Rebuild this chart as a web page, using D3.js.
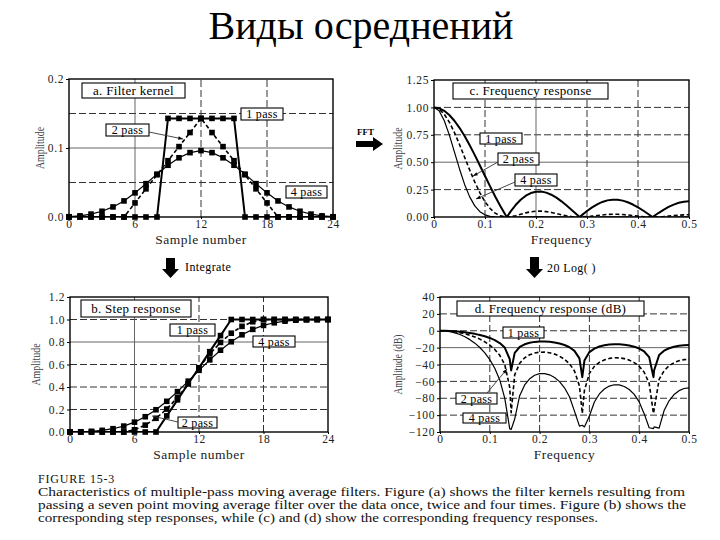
<!DOCTYPE html>
<html><head><meta charset="utf-8">
<script src="https://cdn.jsdelivr.net/npm/d3@7"></script>
<style>body{margin:0;background:#fff} svg{display:block}</style>
</head><body><svg id="c" width="720" height="540"></svg>
<script>
// ---------------- DATA ----------------
const titleText = "Виды осреднений";
const samples = [0,1,2,3,4,5,6,7,8,9,10,11,12,13,14,15,16,17,18,19,20,21,22,23,24];
const kernel1 = [0,0,0,0,0,0,0,0,0,0.1429,0.1429,0.1429,0.1429,0.1429,0.1429,0.1429,0,0,0,0,0,0,0,0,0];
const kernel2 = [0,0,0,0,0,0,0.0204,0.0408,0.0612,0.0816,0.1020,0.1224,0.1429,0.1224,0.1020,0.0816,0.0612,0.0408,0.0204,0,0,0,0,0,0];
const kernel4 = [0.0004,0.0017,0.0042,0.0083,0.0146,0.0233,0.0350,0.0483,0.0621,0.0750,0.0858,0.0933,0.0962,0.0933,0.0858,0.0750,0.0621,0.0483,0.0350,0.0233,0.0146,0.0083,0.0042,0.0017,0.0004];
const step1 = [0,0,0,0,0,0,0,0,0,0.143,0.286,0.429,0.571,0.714,0.857,1,1,1,1,1,1,1,1,1,1];
const step2 = [0,0,0,0,0,0,0.020,0.061,0.122,0.204,0.306,0.429,0.571,0.694,0.796,0.878,0.939,0.980,1,1,1,1,1,1,1];
const step4 = [0.0004,0.0021,0.0062,0.0146,0.0292,0.0525,0.0875,0.1358,0.1978,0.2728,0.3586,0.4519,0.5481,0.6414,0.7272,0.8022,0.8642,0.9125,0.9475,0.9708,0.9854,0.9938,0.9979,0.9996,1];

const freq = [0,0.01,0.02,0.03,0.04,0.05,0.06,0.07,0.08,0.09,0.10,0.11,0.12,0.13,0.14,0.1429,
  0.15,0.16,0.17,0.18,0.19,0.20,0.21,0.22,0.23,0.24,0.25,0.26,0.27,0.28,0.2857,
  0.29,0.30,0.31,0.32,0.33,0.34,0.35,0.36,0.37,0.38,0.39,0.40,0.41,0.42,0.4286,
  0.43,0.44,0.45,0.46,0.47,0.48,0.49,0.50];
const amp1 = [1,0.9921,0.9687,0.9304,0.8783,0.8137,0.7384,0.6546,0.5643,0.4699,0.3740,0.2789,0.1870,0.1004,0.0211,0,
  0.0492,0.1092,0.1577,0.1944,0.2188,0.2311,0.2320,0.2224,0.2033,0.1762,0.1429,0.1050,0.0645,0.0232,0,
  0.0170,0.0546,0.0879,0.1158,0.1373,0.1516,0.1584,0.1576,0.1495,0.1346,0.1139,0.0883,0.0591,0.0276,0,
  0.0046,0.0362,0.0657,0.0918,0.1134,0.1295,0.1395,0.1429];
const amp2 = [1,0.9843,0.9384,0.8656,0.7713,0.6621,0.5453,0.4285,0.3184,0.2208,0.1399,0.0778,0.0350,0.0101,0.0004,0,
  0.0024,0.0119,0.0249,0.0378,0.0479,0.0534,0.0538,0.0494,0.0413,0.0311,0.0204,0.0110,0.0042,0.0005,0,
  0.0003,0.0030,0.0077,0.0134,0.0188,0.0230,0.0251,0.0248,0.0223,0.0181,0.0130,0.0078,0.0035,0.0008,0,
  0.0000,0.0013,0.0043,0.0084,0.0129,0.0168,0.0195,0.0204];
const amp4 = [1,0.9688,0.8806,0.7493,0.5949,0.4384,0.2973,0.1836,0.1014,0.0488,0.0196,0.0061,0.0012,0.0001,0,0,
  0,0.0001,0.0006,0.0014,0.0023,0.0029,0.0029,0.0024,0.0017,0.0010,0.0004,0.0001,0,0,0,
  0,0,0.0001,0.0002,0.0004,0.0005,0.0006,0.0006,0.0005,0.0003,0.0002,0.0001,0,0,0,
  0,0,0,0.0001,0.0002,0.0003,0.0004,0.0004];
const db1 = [0,-0.07,-0.28,-0.63,-1.13,-1.79,-2.63,-3.68,-4.97,-6.56,-8.54,-11.09,-14.57,-19.97,-33.53,-47,
  -26.16,-19.24,-16.04,-14.23,-13.20,-12.72,-12.69,-13.06,-13.84,-15.08,-16.90,-19.58,-23.81,-32.68,-55,
  -35.38,-25.26,-21.12,-18.72,-17.25,-16.39,-16.01,-16.05,-16.51,-17.42,-18.87,-21.08,-24.57,-31.17,-55,
  -46.75,-28.83,-23.65,-20.74,-18.91,-17.75,-17.11,-16.90];
const db2 = [0,-0.14,-0.55,-1.25,-2.26,-3.58,-5.27,-7.36,-9.94,-13.12,-17.09,-22.18,-29.13,-39.94,-67.06,-97,
  -52.31,-38.48,-32.08,-28.46,-26.40,-25.45,-25.38,-26.12,-27.68,-30.16,-33.80,-39.15,-47.61,-65.35,-98,
  -70.77,-50.52,-42.24,-37.45,-34.50,-32.78,-32.01,-32.10,-33.02,-34.83,-37.74,-42.16,-49.14,-62.34,-98,
  -93.50,-57.67,-47.31,-41.49,-37.82,-35.51,-34.22,-33.80];
const db4 = [0,-0.28,-1.10,-2.51,-4.51,-7.16,-10.54,-14.72,-19.88,-26.24,-34.17,-44.36,-58.26,-79.88,-116,-117,
  -104.62,-76.95,-64.16,-56.91,-52.80,-50.89,-50.75,-52.24,-55.36,-60.32,-67.61,-78.30,-95.23,-113,-112,
  -114,-101.05,-84.47,-74.90,-68.99,-65.55,-64.03,-64.20,-66.03,-69.67,-75.48,-84.33,-98.28,-115,-116,
  -114,-115.33,-94.61,-82.98,-75.64,-71.01,-68.44,-67.61];

const xTicksSample = [0,6,12,18,24];
const xTicksFreq = [0,0.1,0.2,0.3,0.4,0.5];
const yTicksA = [0,0.1,0.2];
const yTicksB = [0,0.2,0.4,0.6,0.8,1.0,1.2];
const yTicksC = [0,0.25,0.5,0.75,1.0,1.25];
const yTicksD = [-120,-100,-80,-60,-40,-20,0,20,40];
const seriesNames = ["1 pass","2 pass","4 pass"];
const panelTitles = ["a.  Filter kernel","b.  Step response","c.  Frequency response","d.  Frequency response (dB)"];
const captionLines = [
  "FIGURE 15-3",
  "Characteristics of multiple-pass moving average filters. Figure (a) shows the filter kernels resulting from",
  "passing a seven point moving average filter over the data once, twice and four times.   Figure (b) shows the",
  "corresponding step responses, while (c) and (d) show the corresponding frequency responses."
];

// ---------------- DRAW ----------------
const FONT = "'Liberation Serif','Times New Roman',serif";
const svg = d3.select("#c");
svg.append("rect").attr("width",720).attr("height",540).attr("fill","#fff");

svg.append("text").attr("x",361).attr("y",39).attr("text-anchor","middle")
  .attr("font-family",FONT).attr("font-size",40).attr("fill","#000").text(titleText);

const styles = [
  {w:2.0, dash:null},
  {w:1.6, dash:"4,2.5"},
  {w:1.2, dash:null}
];

function panel(o){
  const x = d3.scaleLinear().domain(o.xd).range(o.xr);
  const y = d3.scaleLinear().domain(o.yd).range(o.yr);
  const g = svg.append("g");
  // grid
  o.hgrid.forEach(([v,dash])=>{
    g.append("line").attr("x1",o.xr[0]).attr("x2",o.xr[1]).attr("y1",y(v)).attr("y2",y(v))
      .attr("stroke",dash?"#333":"#555").attr("stroke-width",dash?1:0.9)
      .attr("stroke-dasharray",dash?"7,3":null);
  });
  o.vgrid.forEach(([v,dash])=>{
    g.append("line").attr("y1",o.yr[0]).attr("y2",o.yr[1]).attr("x1",x(v)).attr("x2",x(v))
      .attr("stroke",dash?"#333":"#555").attr("stroke-width",dash?1:0.9)
      .attr("stroke-dasharray",dash?"7,3":null);
  });
  // axes
  const ax = g.append("g").attr("transform",`translate(0,${o.yr[0]})`)
    .call(d3.axisBottom(x).tickValues(o.xt).tickSize(2).tickPadding(1).tickFormat(o.xf));
  const ay = g.append("g").attr("transform",`translate(${o.xr[0]},0)`)
    .call(d3.axisLeft(y).tickValues(o.yt).tickSize(3).tickPadding(2).tickFormat(o.yf));
  [ax,ay].forEach(a=>{
    a.select(".domain").remove();
    a.selectAll("text").attr("font-family",FONT).attr("font-size",11.5).attr("fill","#222")
      .attr("letter-spacing","0.6px");
    a.selectAll("line").attr("stroke","#000");
  });
  // frame
  g.append("rect").attr("x",o.xr[0]).attr("y",o.yr[1]).attr("width",o.xr[1]-o.xr[0])
    .attr("height",o.yr[0]-o.yr[1]).attr("fill","none").attr("stroke","#000").attr("stroke-width",1.4);
  // axis titles
  g.append("text").attr("x",(o.xr[0]+o.xr[1])/2).attr("y",o.yr[0]+27).attr("text-anchor","middle")
    .attr("font-family",FONT).attr("font-size",13.5).attr("fill","#222").attr("letter-spacing","0.5px").text(o.xlabel);
  g.append("text").attr("transform",`translate(${o.ylx},${(o.yr[0]+o.yr[1])/2}) rotate(-90)`)
    .attr("text-anchor","middle").attr("font-family",FONT).attr("font-size",12).attr("fill","#444")
    .attr("textLength",o.ylLen).attr("lengthAdjust","spacingAndGlyphs").text(o.ylabel);
  // series
  const clipId = "clip"+o.id;
  svg.append("clipPath").attr("id",clipId).append("rect").attr("x",o.xr[0]).attr("y",o.yr[1])
    .attr("width",o.xr[1]-o.xr[0]).attr("height",o.yr[0]-o.yr[1]);
  const line = d3.line().x(d=>x(d[0])).y(d=>y(d[1]));
  o.series.forEach((s,i)=>{
    const pts = o.xs.map((v,j)=>[v,s[j]]);
    g.append("path").attr("d",line(pts)).attr("fill","none").attr("stroke","#000")
      .attr("stroke-width",styles[i].w).attr("stroke-dasharray",styles[i].dash)
      .attr("stroke-linejoin","round").attr("clip-path",`url(#${clipId})`);
    if(o.markers){
      g.selectAll(null).data(pts).enter().append("rect")
        .attr("x",d=>x(d[0])-2.8).attr("y",d=>y(d[1])-2.8).attr("width",5.6).attr("height",5.6)
        .attr("fill","#000");
    }
  });
  return {x,y,g};
}

function box(x0,y0,x1,y1,txt,fs){
  const g = svg.append("g");
  g.append("rect").attr("x",x0).attr("y",y0).attr("width",x1-x0).attr("height",y1-y0)
    .attr("fill","#fff").attr("stroke","#000").attr("stroke-width",1.1);
  g.append("text").attr("x",(x0+x1)/2).attr("y",(y0+y1)/2+fs*0.34).attr("text-anchor","middle")
    .attr("font-family",FONT).attr("font-size",fs).attr("fill","#000").attr("letter-spacing","0.3px").text(txt);
}
function leader(x0,y0,x1,y1){
  svg.append("line").attr("x1",x0).attr("y1",y0).attr("x2",x1).attr("y2",y1)
    .attr("stroke","#333").attr("stroke-width",0.9);
  const a = Math.atan2(y1-y0,x1-x0), L=5;
  svg.append("path").attr("d",`M${x1},${y1}L${x1-L*Math.cos(a-0.35)},${y1-L*Math.sin(a-0.35)}L${x1-L*Math.cos(a+0.35)},${y1-L*Math.sin(a+0.35)}Z`)
    .attr("fill","#000");
}

const f1 = d3.format(".1f"), f2 = d3.format(".2f");
const fq = d=> d===0?"0":d3.format(".1f")(d);

panel({id:"a",xd:[0,24],xr:[69,333],yd:[0,0.2],yr:[217,79],xt:xTicksSample,yt:yTicksA,xf:d3.format("d"),yf:f1,
  hgrid:[[0.05,true],[0.1,false],[0.15,true]],vgrid:[[6,false],[12,true],[18,true]],
  xlabel:"Sample number",ylabel:"Amplitude",ylx:44,ylLen:42,xs:samples,series:[kernel1,kernel2,kernel4],markers:true});
panel({id:"b",xd:[0,24],xr:[70,328],yd:[0,1.2],yr:[432,297],xt:xTicksSample,yt:yTicksB,xf:d3.format("d"),yf:f1,
  hgrid:[[0.2,true],[0.4,true],[0.6,true],[0.8,false],[1.0,true]],vgrid:[[6,false],[12,true],[18,true]],
  xlabel:"Sample number",ylabel:"Amplitude",ylx:40,ylLen:42,xs:samples,series:[step1,step2,step4],markers:true});
panel({id:"c",xd:[0,0.5],xr:[434,689],yd:[0,1.25],yr:[217,80],xt:xTicksFreq,yt:yTicksC,xf:fq,yf:f2,
  hgrid:[[0.25,true],[0.5,false],[0.75,true],[1.0,true]],vgrid:[[0.1,true],[0.2,false],[0.3,true],[0.4,true]],
  xlabel:"Frequency",ylabel:"Amplitude",ylx:402,ylLen:42,xs:freq,series:[amp1,amp2,amp4],markers:false});
panel({id:"d",xd:[0,0.5],xr:[440,689],yd:[-120,40],yr:[432,297],xt:xTicksFreq,yt:yTicksD,xf:fq,yf:d3.format("d"),
  hgrid:[[20,true],[0,true],[-20,false],[-40,false],[-60,true],[-80,true],[-100,true]],vgrid:[[0.1,true],[0.2,true],[0.3,true],[0.4,true]],
  xlabel:"Frequency",ylabel:"Amplitude (dB)",ylx:402,ylLen:60,xs:freq,series:[db1,db2,db4],markers:false});

// panel titles & labels
box(82,83,185,98,panelTitles[0],13);
box(241,108,283,120,seriesNames[0],12);
box(106,124,149,136,seriesNames[1],12);
box(286,186,327,198,seriesNames[2],12);
leader(149,132,183,139);

box(81,300,191,317,panelTitles[1],13);
box(170,324,215,336,seriesNames[0],12);
box(253,336,295,347,seriesNames[2],12);
box(178,417,217,428,seriesNames[1],12);
svg.append("line").attr("x1",178).attr("y1",422).attr("x2",152).attr("y2",416).attr("stroke","#333").attr("stroke-width",0.9);

box(453,83,608,99,panelTitles[2],13);
box(480,133,522,144,seriesNames[0],12);
box(498,153,539,165,seriesNames[1],12);
box(515,174,557,186,seriesNames[2],12);
leader(498,162,473,176);
leader(515,182,476,199);

box(457,301,644,316,panelTitles[3],13);
box(503,327,544,338,seriesNames[0],12);
box(456,393,497,404,seriesNames[1],12);
box(463,413,506,423,seriesNames[2],12);
leader(487,393,507,369);

// arrows
svg.append("path").attr("d","M356,141H373V137L383,144L373,151V147H356Z").attr("fill","#000");
svg.append("text").attr("x",357).attr("y",135).attr("font-family",FONT).attr("font-size",9).attr("font-weight","bold").text("FFT");
svg.append("path").attr("d","M166,258H175V269H179L170.5,278L162,269H166Z").attr("fill","#000");
svg.append("text").attr("x",185).attr("y",271).attr("font-family",FONT).attr("font-size",12).attr("letter-spacing","0.4px").text("Integrate");
svg.append("path").attr("d","M530,257H539V269H543L534.5,278L526,269H530Z").attr("fill","#000");
svg.append("text").attr("x",547).attr("y",272).attr("font-family",FONT).attr("font-size",12).attr("letter-spacing","0.4px").text("20 Log(   )");

// caption
const capY = [483,496,509,522];
const capLen = [null,647,648,560];
captionLines.forEach((t,i)=>{
  const el = svg.append("text").attr("x",38).attr("y",capY[i]).attr("font-family",FONT)
    .attr("font-size",12).attr("fill","#111").text(t);
  if(capLen[i]) el.attr("textLength",capLen[i]).attr("lengthAdjust","spacingAndGlyphs");
  else el.attr("letter-spacing","0.8px");
});
</script>
</body></html>
